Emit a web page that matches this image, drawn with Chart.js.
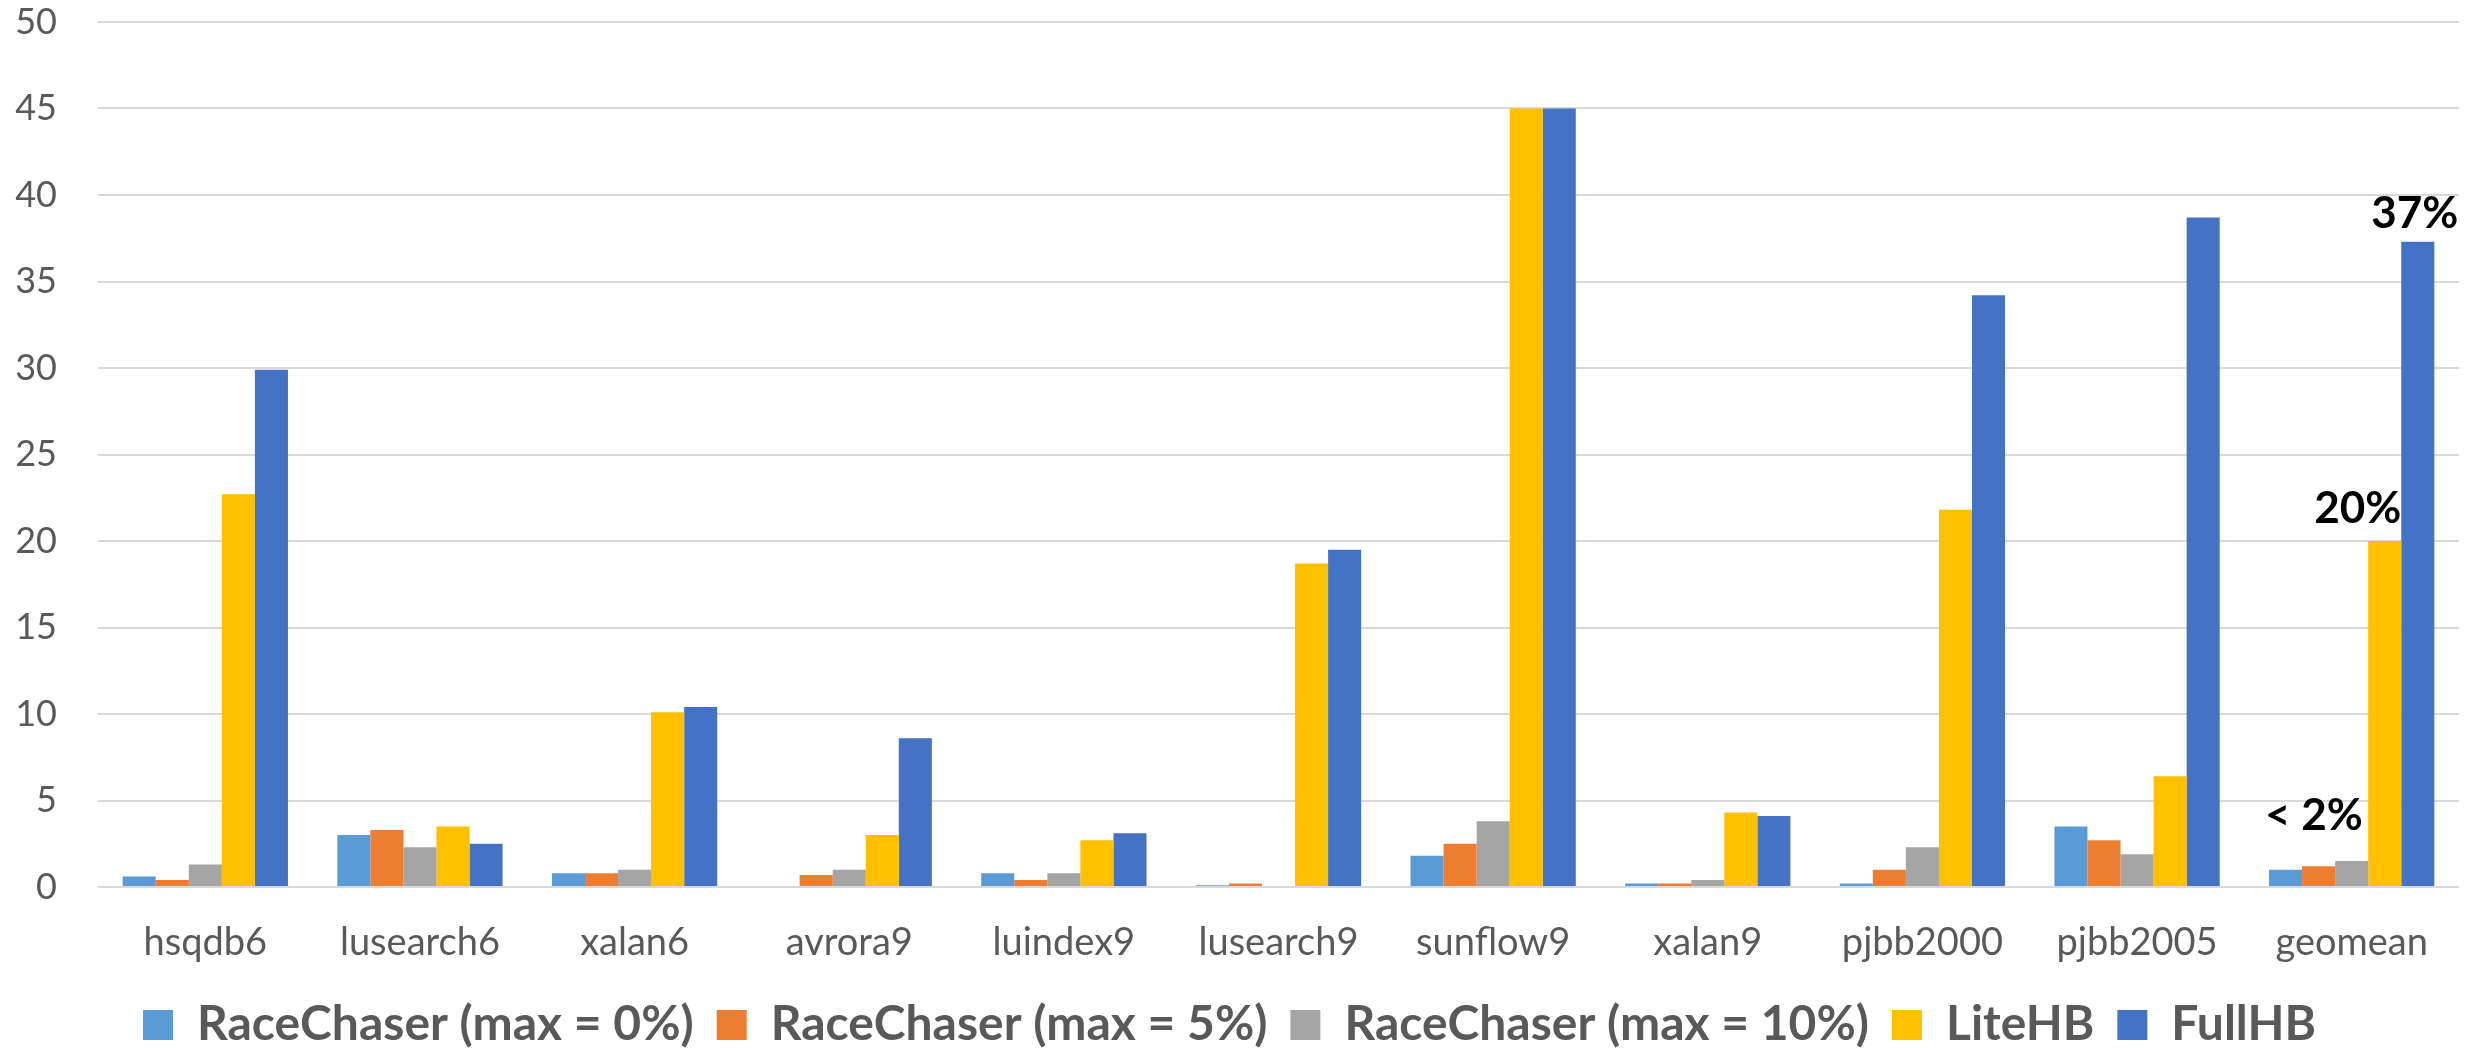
<!DOCTYPE html>
<html>
<head>
<meta charset="utf-8">
<script src="https://cdn.jsdelivr.net/npm/chart.js@4.4.1/dist/chart.umd.min.js"></script>
<style>
  html, body { margin: 0; padding: 0; background: #ffffff; }
  #wrap { position: relative; width: 2484px; height: 1048px; }
</style>
</head>
<body>
<div id="wrap"><canvas id="chart"></canvas></div>
<script>
// Benchmarks on the category axis
const benchmarks = ['hsqdb6', 'lusearch6', 'xalan6', 'avrora9', 'luindex9', 'lusearch9',
                    'sunflow9', 'xalan9', 'pjbb2000', 'pjbb2005', 'geomean'];

// Overhead per configuration (percent)
const raceChaser0  = [0.6, 3.0, 0.8, 0.0, 0.8, 0.1, 1.8, 0.2, 0.2, 3.5, 1.0];
const raceChaser5  = [0.4, 3.3, 0.8, 0.7, 0.4, 0.2, 2.5, 0.2, 1.0, 2.7, 1.2];
const raceChaser10 = [1.3, 2.3, 1.0, 1.0, 0.8, 0.0, 3.8, 0.4, 2.3, 1.9, 1.5];
const liteHB       = [22.7, 3.5, 10.1, 3.0, 2.7, 18.7, 45.0, 4.3, 21.8, 6.4, 20.0];
const fullHB       = [29.9, 2.5, 10.4, 8.6, 3.1, 19.5, 45.0, 4.1, 34.2, 38.7, 37.3];

const seriesNames = ['RaceChaser (max = 0%)', 'RaceChaser (max = 5%)', 'RaceChaser (max = 10%)', 'LiteHB', 'FullHB'];
const seriesColors = ['#5B9BD5', '#ED7D31', '#A5A5A5', '#FFC000', '#4472C4'];

// Y axis ticks
const yTicks = [0, 5, 10, 15, 20, 25, 30, 35, 40, 45, 50];

const FONT = 'Lato, Calibri, "Open Sans", sans-serif';
const seriesData = [raceChaser0, raceChaser5, raceChaser10, liteHB, fullHB];

// Callout labels over the geomean group
const geomeanCallouts = {
  id: 'geomeanCallouts',
  afterDatasetsDraw(chart) {
    const ctx = chart.ctx;
    const gi = benchmarks.indexOf('geomean');
    const bar = (ds) => chart.getDatasetMeta(ds).data[gi];
    ctx.save();
    ctx.fillStyle = '#000000';
    ctx.font = 'bold 44px ' + FONT;
    ctx.textBaseline = 'alphabetic';

    // FullHB
    const bFull = bar(4);
    ctx.textAlign = 'center';
    ctx.fillText(Math.round(fullHB[gi]) + '%', bFull.x - 3, bFull.y - 14);

    // LiteHB
    const bLite = bar(3);
    ctx.textAlign = 'right';
    ctx.fillText(Math.round(liteHB[gi]) + '%', bLite.x + bLite.width / 2, bLite.y - 18);

    // RaceChaser upper bound
    const rcMax = Math.max(raceChaser0[gi], raceChaser5[gi], raceChaser10[gi]);
    const b0 = bar(0);
    const b10 = bar(2);
    ctx.textAlign = 'left';
    ctx.fillText('< ' + Math.ceil(rcMax) + '%', b0.x - b0.width / 2 - 4, b10.y - 31);
    ctx.restore();
  }
};

new Chart(document.getElementById('chart'), {
  type: 'bar',
  data: {
    labels: benchmarks,
    datasets: seriesNames.map((name, i) => ({
      label: name,
      data: seriesData[i],
      backgroundColor: seriesColors[i],
      borderWidth: 0,
      categoryPercentage: 0.77,
      barPercentage: 1.0
    }))
  },
  options: {
    responsive: true,
    maintainAspectRatio: false,
    animation: false,
    layout: { padding: { top: 22, right: 25, left: 0, bottom: -11 } },
    plugins: {
      tooltip: { enabled: false },
      legend: {
        position: 'bottom',
        labels: {
          boxWidth: 30,
          boxHeight: 30,
          padding: 23,
          color: '#595959',
          font: { family: FONT, size: 48, weight: 'bold' }
        }
      }
    },
    scales: {
      x: {
        grid: { display: false, drawTicks: false },
        border: { display: false },
        ticks: {
          color: '#595959',
          padding: 33,
          maxRotation: 0,
          font: { family: FONT, size: 38 }
        },
        afterFit(scale) {
          scale.height = 91;
          scale.paddingLeft = 0;
          scale.paddingRight = 0;
        }
      },
      y: {
        min: 0,
        max: 50,
        afterBuildTicks(scale) { scale.ticks = yTicks.map(v => ({ value: v })); },
        grid: { color: '#D9D9D9', lineWidth: 2, drawTicks: false },
        border: { display: false },
        ticks: {
          color: '#595959',
          padding: 41,
          font: { family: FONT, size: 36 }
        },
        afterFit(scale) {
          scale.width = 98;
          scale.paddingTop = 0;
          scale.paddingBottom = 0;
        }
      }
    }
  },
  plugins: [geomeanCallouts]
});
</script>
</body>
</html>
